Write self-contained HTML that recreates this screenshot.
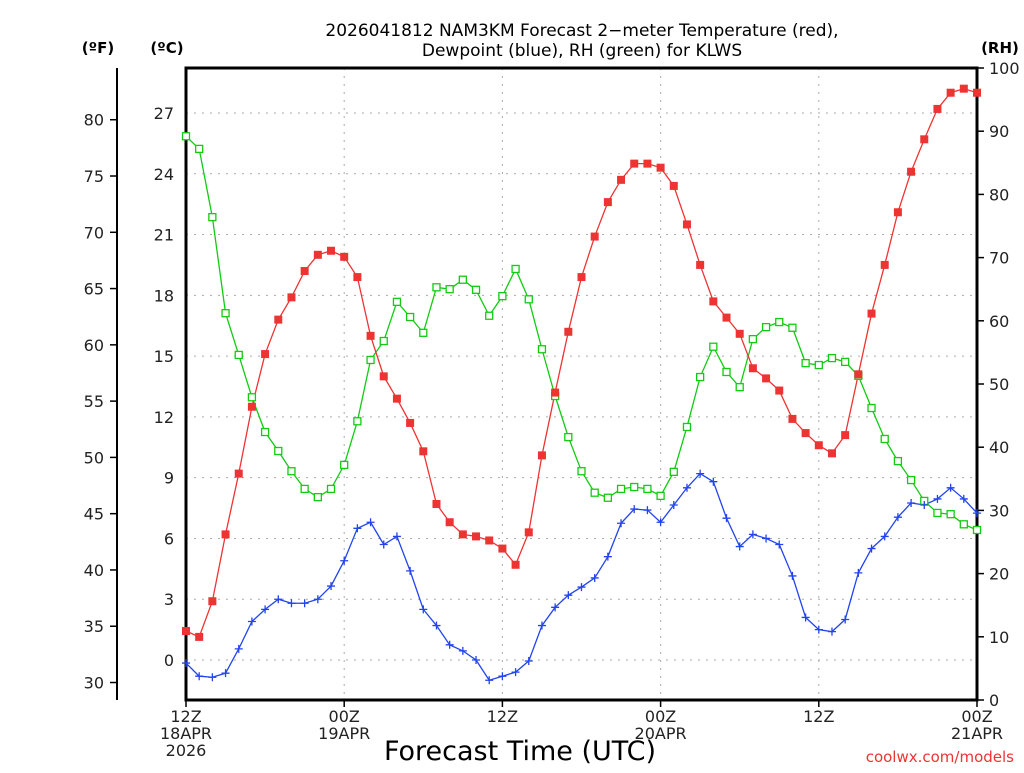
<!DOCTYPE html>
<html><head><meta charset="utf-8"><style>
body{margin:0;background:#fff;}
svg text{font-family:"DejaVu Sans","Liberation Sans",sans-serif;}
</style></head><body>
<svg id="c" width="1024" height="768" xmlns="http://www.w3.org/2000/svg">
<rect width="1024" height="768" fill="#fff"/>
<text x="582" y="36" font-size="17" text-anchor="middle">2026041812 NAM3KM Forecast 2−meter Temperature (red),</text>
<text x="582" y="56" font-size="17" text-anchor="middle">Dewpoint (blue), RH (green) for KLWS</text>
<text x="98" y="53" font-size="15" font-weight="bold" text-anchor="middle">(ºF)</text>
<text x="167" y="53" font-size="15" font-weight="bold" text-anchor="middle">(ºC)</text>
<text x="1000" y="53" font-size="15" font-weight="bold" text-anchor="middle">(RH)</text>
<text x="520" y="760" font-size="27" text-anchor="middle">Forecast Time (UTC)</text>
<text x="1014" y="762" font-size="15" fill="#e33" text-anchor="end">coolwx.com/models</text>
<g id="grid"></g><g id="axes"></g><g id="series"></g>
</svg>
<script>
const hours=[];for(let i=0;i<=60;i++)hours.push(i);
const tempC=[1.43,1.14,2.9,6.2,9.2,12.5,15.1,16.8,17.9,19.2,20.0,20.2,19.9,18.9,16.0,14.0,12.9,11.7,10.3,7.7,6.8,6.2,6.1,5.9,5.5,4.7,6.3,10.1,13.2,16.2,18.9,20.9,22.6,23.7,24.5,24.5,24.3,23.4,21.5,19.5,17.7,16.9,16.1,14.4,13.9,13.3,11.9,11.2,10.6,10.2,11.1,14.1,17.1,19.5,22.1,24.1,25.7,27.2,28.0,28.2,28.0];
const dewC=[-0.15,-0.8,-0.85,-0.65,0.55,1.9,2.5,3.0,2.8,2.8,3.0,3.65,4.9,6.5,6.8,5.7,6.1,4.4,2.5,1.7,0.75,0.45,0,-1.0,-0.8,-0.6,-0.05,1.7,2.6,3.2,3.6,4.05,5.1,6.75,7.45,7.4,6.8,7.65,8.5,9.2,8.8,7.0,5.6,6.2,6.0,5.7,4.15,2.1,1.5,1.4,2.0,4.3,5.5,6.1,7.05,7.75,7.65,7.95,8.5,7.95,7.25];
const rh=[89.2,87.2,76.4,61.2,54.6,47.9,42.4,39.4,36.2,33.4,32.1,33.4,37.2,44.1,53.8,56.8,63.0,60.6,58.1,65.3,65.0,66.5,64.9,60.8,63.9,68.2,63.4,55.5,48.1,41.6,36.2,32.8,32.0,33.4,33.7,33.4,32.3,36.1,43.2,51.1,55.9,51.9,49.5,57.1,59.0,59.8,58.9,53.3,53.0,54.1,53.5,51.3,46.2,41.3,37.8,34.8,31.5,29.6,29.4,27.8,26.9];
const cTicks=[0,3,6,9,12,15,18,21,24,27];
const fTicks=[30,35,40,45,50,55,60,65,70,75,80];
const rhTicks=[0,10,20,30,40,50,60,70,80,90,100];
const xTicks=[0,12,24,36,48,60];
const xLabels=[["12Z","18APR","2026"],["00Z","19APR"],["12Z"],["00Z","20APR"],["12Z"],["00Z","21APR"]];
const L=186,R=977,T=68,B=700;
const X=h=>L+(R-L)*h/60;
const YC=c=>660-c*20.26;
const YF=f=>YC((f-32)/1.8);
const YR=r=>B-(B-T)*r/100;
const NS="http://www.w3.org/2000/svg";
function mk(p,t,a){const e=document.createElementNS(NS,t);for(const k in a)e.setAttribute(k,a[k]);document.getElementById(p).appendChild(e);return e;}
cTicks.forEach(c=>{const e=mk('grid','line',{x1:L,x2:R,y1:YC(c),y2:YC(c),stroke:'#aaa','stroke-dasharray':'2,6'});


const t=mk('axes','text',{x:174,y:YC(c)+6,'font-size':16,'text-anchor':'end',fill:'#222'});t.textContent=c;

});
xTicks.slice(1,5).forEach(h=>{const e=mk('grid','line',{x1:X(h),x2:X(h),y1:T,y2:B,stroke:'#aaa','stroke-dasharray':'2,6'});

});
fTicks.forEach(f=>{const l=mk('axes','line',{x1:110,x2:117,y1:YF(f),y2:YF(f),stroke:'#000','stroke-width':1.5});


const t=mk('axes','text',{x:104,y:YF(f)+6,'font-size':16,'text-anchor':'end',fill:'#222'});t.textContent=f;

});
rhTicks.forEach(r=>{const l=mk('axes','line',{x1:R,x2:R+7,y1:YR(r),y2:YR(r),stroke:'#000','stroke-width':1.5});


const t=mk('axes','text',{x:989,y:YR(r)+6,'font-size':16,fill:'#222'});t.textContent=r;

});
xTicks.forEach((h,i)=>{const l=mk('axes','line',{x1:X(h),x2:X(h),y1:B,y2:B+7,stroke:'#000','stroke-width':1.5});


xLabels[i].forEach((s,j)=>{const t=mk('axes','text',{x:X(h),y:722+j*17,'font-size':16,'text-anchor':'middle',fill:'#222'});t.textContent=s;

});});
const fa=mk('axes','line',{x1:117,x2:117,y1:T,y2:B,stroke:'#000','stroke-width':2});


const box=mk('axes','rect',{x:L,y:T,width:R-L,height:B-T,fill:'none',stroke:'#000','stroke-width':3});


function line(vals,yf,col,name){const p=mk('series','polyline',{points:vals.map((v,i)=>X(hours[i])+','+yf(v)).join(' '),fill:'none',stroke:col,'stroke-width':1.3});

}
line(rh,YR,'#1c1','rh');line(tempC,YC,'#e33','temperature');line(dewC,YC,'#24e','dewpoint');
rh.forEach((v,i)=>{const e=mk('series','rect',{x:X(hours[i])-3.5,y:YR(v)-3.5,width:7,height:7,fill:'#fff',stroke:'#1c1','stroke-width':1.3});

});
tempC.forEach((v,i)=>{const e=mk('series','rect',{x:X(hours[i])-4,y:YC(v)-4,width:8,height:8,fill:'#e33'});

});
dewC.forEach((v,i)=>{const x=X(hours[i]),y=YC(v);const e=mk('series','path',{d:`M${x-4},${y}H${x+4}M${x},${y-4}V${y+4}`,stroke:'#24e','stroke-width':1.3});

});
</script>
</body></html>
